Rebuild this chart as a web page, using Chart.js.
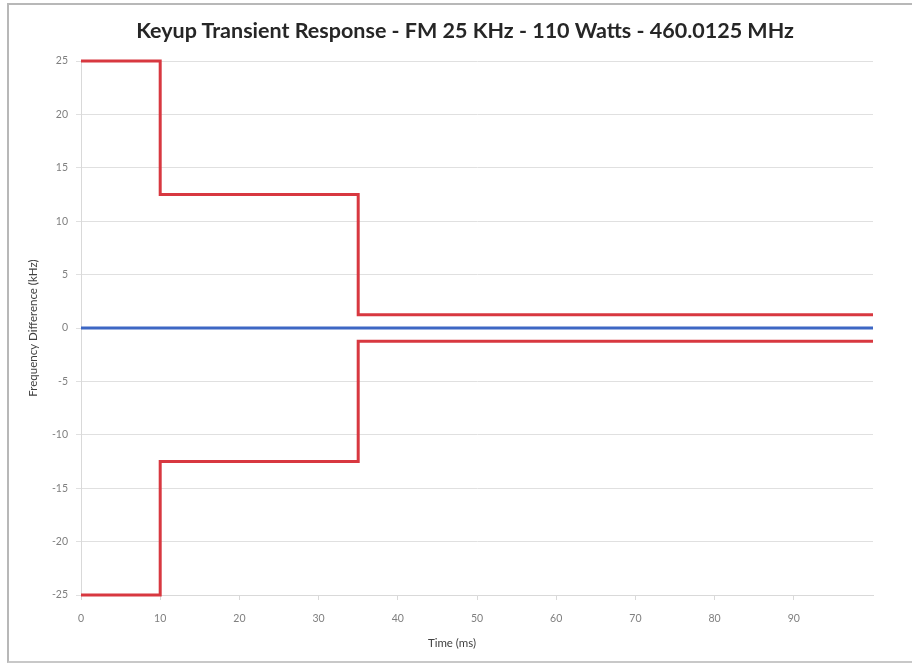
<!DOCTYPE html>
<html>
<head>
<meta charset="utf-8">
<script src="https://cdn.jsdelivr.net/npm/chart.js@4"></script>
<style>
  body { margin: 0; background: #fff; }
  #wrap { position: relative; width: 912px; height: 666px; font-family: Lato, "Noto Sans", sans-serif; }
  #frame {
    position: absolute; left: 7px; top: 3px; width: 905px; height: 660px;
    border-left: 2px solid #b8b8b8; border-top: 2px solid #b8b8b8; border-bottom: 2px solid #c8c8c8;
    box-sizing: border-box;
  }
  canvas { position: absolute; left: 0; top: 0; }
  .title {
    position: absolute; left: 265px; width: 400px; top: 17px; text-align: center; white-space: nowrap;
    display: flex; justify-content: center;
    font-size: 21.5px; font-weight: bold; color: #262626;
  }
  .xtitle {
    position: absolute; left: 352px; width: 200px; top: 636px; text-align: center;
    font-size: 11.5px; color: #404040;
  }
</style>
</head>
<body>
<div id="wrap">
  <div id="frame"></div>
  <canvas id="chart" width="912" height="666"></canvas>
  <div class="title">Keyup Transient Response - FM 25 KHz - 110 Watts - 460.0125 MHz</div>
  <div class="xtitle">Time (ms)</div>
</div>
<script>
// upper / lower limit masks and the measured trace (kHz vs ms)
const upperTime = [0, 10, 10, 35, 35, 100]
const upperKhz = [25, 25, 12.5, 12.5, 1.25, 1.25]
const lowerTime = [0, 10, 10, 35, 35, 100]
const lowerKhz = [-25, -25, -12.5, -12.5, -1.25, -1.25]
const traceTime = [0, 100]
const traceKhz = [0, 0]

const xTicks = [0, 10, 20, 30, 40, 50, 60, 70, 80, 90]
const yTicks = [-25, -20, -15, -10, -5, 0, 5, 10, 15, 20, 25]

const toPoints = (xs, ys) => xs.map((x, i) => ({ x: x, y: ys[i] }))

const red = "#d83840"
const blue = "#3d67c4"
const tickFont = { family: "Lato, 'Noto Sans', sans-serif", size: 10.5 }

const ctx = document.querySelector("#chart")
const chart = new Chart(ctx, {
    type: "line",
    data: {
        datasets: [
            { label: "Upper", data: toPoints(upperTime, upperKhz), borderColor: red, borderWidth: 3, clip: false },
            { label: "Lower", data: toPoints(lowerTime, lowerKhz), borderColor: red, borderWidth: 3, clip: false },
            { label: "Trace", data: toPoints(traceTime, traceKhz), borderColor: blue, borderWidth: 3, clip: false }
        ]
    },
    options: {
        responsive: false,
        animation: false,
        elements: { point: { radius: 0 }, line: { tension: 0 } },
        layout: { padding: { left: 0, right: 39, top: 61, bottom: 0 } },
        plugins: {
            legend: { display: false },
            tooltip: { enabled: false }
        },
        scales: {
            x: {
                type: "linear",
                min: 0,
                max: 100,
                afterBuildTicks: (scale) => { scale.ticks = xTicks.map(v => ({ value: v })) },
                afterFit: (scale) => { scale.height = 71 },
                ticks: { color: "#7f7f7f", font: tickFont, padding: 12, maxRotation: 0 },
                grid: { drawOnChartArea: false, drawTicks: true, tickLength: 5, color: "#d9d9d9" },
                border: { color: "#d9d9d9", width: 1 }
            },
            y: {
                min: -25,
                max: 25,
                afterBuildTicks: (scale) => { scale.ticks = yTicks.map(v => ({ value: v })) },
                afterFit: (scale) => { scale.width = 81 },
                ticks: { color: "#7f7f7f", font: tickFont, padding: 8 },
                grid: { color: "#e0e0e0", lineWidth: 1, tickLength: 5 },
                border: { color: "#d9d9d9", width: 1 },
                title: {
                    display: true, text: "Frequency Difference (kHz)", color: "#404040",
                    font: { family: "Lato, 'Noto Sans', sans-serif", size: 11.5 },
                    padding: { top: 26, bottom: 0 }
                }
            }
        }
    }
})
</script>
</body>
</html>
